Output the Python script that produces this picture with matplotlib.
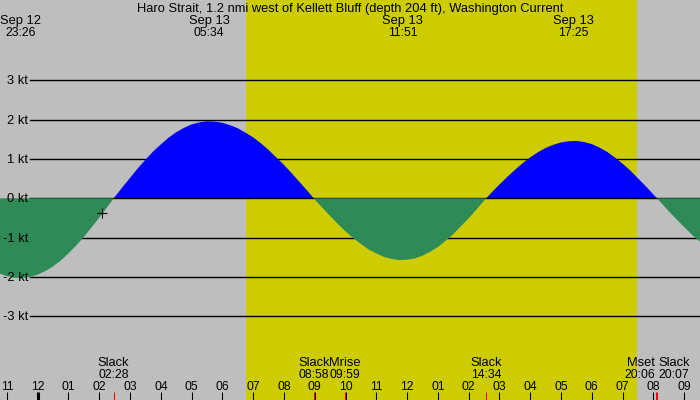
import matplotlib
matplotlib.use("Agg")
import matplotlib.pyplot as plt
import matplotlib.transforms as mtransforms
import numpy as np

title = "Haro Strait, 1.2 nmi west of Kellett Bluff (depth 204 ft), Washington Current"

# current speed (kt) every quarter hour, hours after midnight Sep 13
times = [-1.5, -1.25, -1.0, -0.75, -0.5, -0.25, 0.0, 0.25, 0.5, 0.75,
         1.0, 1.25, 1.5, 1.75, 2.0, 2.25, 2.5, 2.75, 3.0, 3.25,
         3.5, 3.75, 4.0, 4.25, 4.5, 4.75, 5.0, 5.25, 5.5, 5.75,
         6.0, 6.25, 6.5, 6.75, 7.0, 7.25, 7.5, 7.75, 8.0, 8.25,
         8.5, 8.75, 9.0, 9.25, 9.5, 9.75, 10.0, 10.25, 10.5, 10.75,
         11.0, 11.25, 11.5, 11.75, 12.0, 12.25, 12.5, 12.75, 13.0, 13.25,
         13.5, 13.75, 14.0, 14.25, 14.5, 14.75, 15.0, 15.25, 15.5, 15.75,
         16.0, 16.25, 16.5, 16.75, 17.0, 17.25, 17.5, 17.75, 18.0, 18.25,
         18.5, 18.75, 19.0, 19.25, 19.5, 19.75, 20.0, 20.25, 20.5, 20.75,
         21.0, 21.25, 21.5, 21.75, 22.0]
speeds = [-1.81, -1.91, -1.98, -2.02, -2.03, -2.00, -1.94, -1.85, -1.73, -1.58,
          -1.40, -1.20, -0.98, -0.74, -0.49, -0.23, 0.03, 0.28, 0.52, 0.76,
          0.98, 1.19, 1.37, 1.54, 1.68, 1.79, 1.88, 1.93, 1.96, 1.95,
          1.92, 1.86, 1.78, 1.67, 1.55, 1.40, 1.23, 1.04, 0.85, 0.64,
          0.42, 0.20, -0.03, -0.24, -0.45, -0.65, -0.84, -1.01, -1.16, -1.30,
          -1.40, -1.49, -1.54, -1.57, -1.56, -1.53, -1.46, -1.36, -1.24, -1.08,
          -0.91, -0.71, -0.51, -0.29, -0.06, 0.15, 0.35, 0.54, 0.72, 0.89,
          1.04, 1.17, 1.28, 1.36, 1.42, 1.45, 1.46, 1.43, 1.38, 1.29,
          1.18, 1.04, 0.88, 0.71, 0.51, 0.31, 0.10, -0.11, -0.33, -0.53,
          -0.73, -0.92, -1.09, -1.24, -1.37]

# max flood / max ebb, labelled along the top
peak_days = ["Sep 12", "Sep 13", "Sep 13", "Sep 13"]
peak_clock = ["23:26", "05:34", "11:51", "17:25"]

# slack water and moon events, labelled along the bottom (all Sep 13)
event_names = ["Slack", "Slack", "Mrise", "Slack", "Mset", "Slack"]
event_clock = ["02:28", "08:58", "09:59", "14:34", "20:06", "20:07"]

sunrise = 6.77
sunset = 19.47
now_time = 2.09
now_speed = -0.37

speed_levels = [3, 2, 1, 0, -1, -2, -3]
hours = list(range(-1, 22))

NIGHT = "#bebebe"
DAY = "#cccc00"
FLOOD = "#0000ff"
EBB = "#2e8b57"
W, H = 700, 400
FS = 9.3      # words
FS_NUM = 8.7  # clock times and hour numbers


def clock_hours(clock, day="Sep 13"):
    h, m = map(int, clock.split(":"))
    t = h + m / 60.0
    if day == "Sep 12":
        t -= 24
    return t


def frac_from_top(py):
    return 1 - py / H


plt.rcParams['font.family'] = ['Liberation Sans', 'DejaVu Sans']
fig = plt.figure(figsize=(7, 4), dpi=100, facecolor=NIGHT)
ax = fig.add_axes([0, 0, 1, 1])
ax.set_axis_off()
ax.set_xlim(-1.225, 21.517)
ax.set_ylim(-5.128, 5.042)

ax.axvspan(sunrise, sunset, color=DAY, lw=0, zorder=0)

t = np.array(times)
v = np.array(speeds)

# level lines and their labels
lab_tr = mtransforms.blended_transform_factory(ax.transAxes, ax.transData)
lab_tr = mtransforms.offset_copy(lab_tr, fig=fig, x=0, y=-4, units='dots')
for lvl in speed_levels:
    ax.axhline(lvl, xmin=30 / W, xmax=1, color="black", lw=1.0,
               zorder=2.5 if lvl == 0 else 1)
    ax.text(28 / W, lvl, f"{lvl} kt", transform=lab_tr, ha="right",
            va="baseline", fontsize=FS, zorder=6)

ax.fill_between(t, v, 0, where=v >= 0, interpolate=True, color=FLOOD, lw=0, zorder=2)
ax.fill_between(t, v, 0, where=v <= 0, interpolate=True, color=EBB, lw=0, zorder=3)

ax.plot([now_time], [now_speed], marker="+", color="black", ms=7, mew=0.8, zorder=5)

xtr = ax.get_xaxis_transform()
ax.text(0.5, frac_from_top(12), title, transform=ax.transAxes, ha="center",
        va="baseline", fontsize=FS)

for day, clock in zip(peak_days, peak_clock):
    x = clock_hours(clock, day)
    ax.text(x, frac_from_top(24), day, transform=xtr, ha="center", va="baseline", fontsize=FS)
    ax.text(x, frac_from_top(36), clock, transform=xtr, ha="center", va="baseline", fontsize=FS_NUM)

# hour ticks along the bottom
for h in hours:
    label = f"{(h % 12) or 12:02d}"
    ax.text(h, frac_from_top(390), label, transform=xtr, ha="center",
            va="baseline", fontsize=FS_NUM, zorder=6)
    ax.vlines(h, 0, 8 / H, transform=xtr, color="black",
              lw=2.2 if h % 24 == 0 else 0.75, zorder=4)

ev_times = [clock_hours(c) for c in event_clock]
aligns = ["center"] * len(ev_times)
for i in range(len(ev_times) - 1):
    if ev_times[i + 1] - ev_times[i] < 0.5:
        aligns[i] = "right"
        aligns[i + 1] = "left"
shift = {"center": 0, "right": -1.5, "left": 1.5}
for name, clock, x, ha in zip(event_names, event_clock, ev_times, aligns):
    tr = mtransforms.offset_copy(xtr, fig=fig, x=shift[ha], y=0, units='dots')
    ax.text(x, frac_from_top(366.5), name, transform=tr, ha=ha, va="baseline", fontsize=FS)
    ax.text(x, frac_from_top(378), clock, transform=tr, ha=ha, va="baseline", fontsize=FS_NUM)
    ax.vlines(x, 0, 8 / H, transform=xtr, color="red", lw=0.75, zorder=5)

fig.savefig("out.png", dpi=100, facecolor=NIGHT)
